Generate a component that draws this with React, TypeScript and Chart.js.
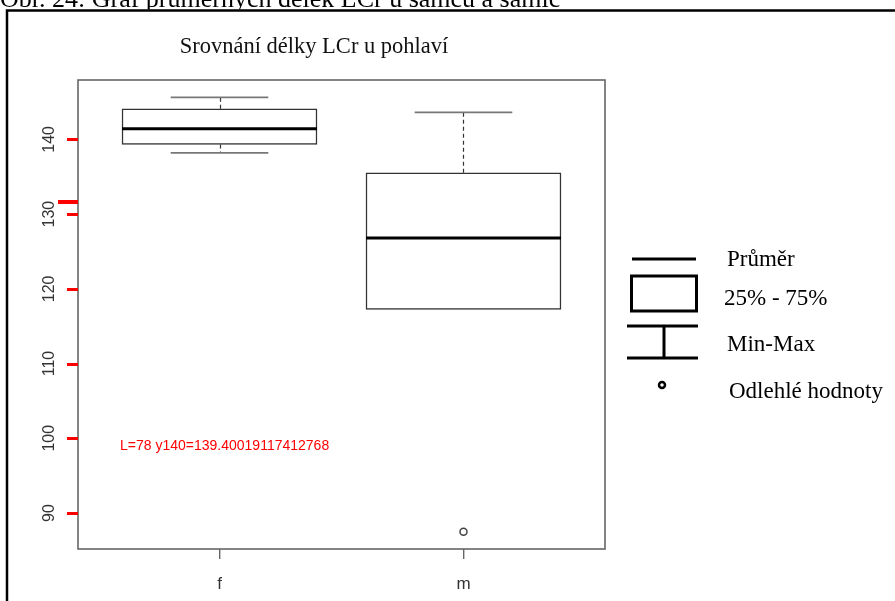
import React, { useEffect, useRef } from "react";
import { Chart, registerables } from "chart.js";

Chart.register(...registerables);

// ---- data ----
const categories = ["f", "m"];
const categoryPositions = [1, 2];
const whiskerLow = [138.2, 117.25];
const q1Values = [139.33, 117.25];
const medianValues = [141.42, 126.81];
const q3Values = [144.1, 135.52];
const whiskerHigh = [145.63, 143.62];
const outlierCategory = [2];
const outlierValues = [87.5];
const yTickValues = [90, 100, 110, 120, 130, 140];
const legendLabels = ["Průměr", "25% - 75%", "Min-Max", "Odlehlé hodnoty"];
const chartTitle = "Srovnání délky LCr u pohlaví";
const caption = "Obr. 24: Graf průměrných délek LCr u samců a samic";

const SERIF = "'Liberation Serif', 'Times New Roman', serif";
const SANS = "'Liberation Sans', Arial, sans-serif";

const boxPlugin = {
  id: "boxExtras",
  beforeDraw(chart: any) {
    const ctx = chart.ctx;
    ctx.save();
    ctx.fillStyle = "#ffffff";
    ctx.fillRect(0, 0, chart.width, chart.height);
    ctx.restore();
  },
  beforeDatasetsDraw(chart: any) {
    const ctx = chart.ctx;
    const xs = chart.scales.x;
    const ys = chart.scales.y;
    ctx.save();
    categoryPositions.forEach((pos, i) => {
      const cx = Math.round(xs.getPixelForValue(pos)) + 0.5;
      const capL = xs.getPixelForValue(pos - 0.2);
      const capR = xs.getPixelForValue(pos + 0.2);
      const ends: [number, number][] = [
        [q3Values[i], whiskerHigh[i]],
        [q1Values[i], whiskerLow[i]],
      ];
      ends.forEach(([edge, tip]) => {
        if (edge === tip) return;
        const ye = ys.getPixelForValue(edge);
        const yt = ys.getPixelForValue(tip);
        ctx.strokeStyle = "#333";
        ctx.lineWidth = 1.2;
        ctx.setLineDash([4, 3]);
        ctx.beginPath();
        ctx.moveTo(cx, ye);
        ctx.lineTo(cx, yt);
        ctx.stroke();
        ctx.setLineDash([]);
        ctx.strokeStyle = "#777";
        ctx.lineWidth = 1.6;
        ctx.beginPath();
        ctx.moveTo(capL, yt);
        ctx.lineTo(capR, yt);
        ctx.stroke();
      });
    });
    ctx.restore();
  },
  afterDatasetsDraw(chart: any) {
    const ctx = chart.ctx;
    const ys = chart.scales.y;
    const meta = chart.getDatasetMeta(0);
    ctx.save();
    ctx.strokeStyle = "#000";
    ctx.lineWidth = 3;
    meta.data.forEach((bar: any, i: number) => {
      const y = ys.getPixelForValue(medianValues[i]);
      ctx.beginPath();
      ctx.moveTo(bar.x - bar.width / 2, y);
      ctx.lineTo(bar.x + bar.width / 2, y);
      ctx.stroke();
    });
    ctx.restore();
  },
  afterDraw(chart: any) {
    const ctx = chart.ctx;
    const a = chart.chartArea;
    const ys = chart.scales.y;
    ctx.save();
    ctx.setLineDash([]);
    // plot frame
    ctx.strokeStyle = "#666";
    ctx.lineWidth = 1.6;
    ctx.strokeRect(a.left, a.top, a.right - a.left, a.bottom - a.top);

    // rotated y tick labels
    ctx.fillStyle = "#333";
    ctx.font = `16px ${SANS}`;
    ctx.textAlign = "center";
    ctx.textBaseline = "alphabetic";
    yTickValues.forEach((v) => {
      const y = ys.getPixelForValue(v);
      ctx.save();
      ctx.translate(54, y);
      ctx.rotate(-Math.PI / 2);
      ctx.fillText(String(v), 0, 0);
      ctx.restore();
    });

    // title
    ctx.fillStyle = "#111";
    ctx.font = `22.5px ${SERIF}`;
    ctx.textAlign = "center";
    ctx.fillText(chartTitle, 314, 53);

    // legend (hand-drawn key as in the reference)
    ctx.strokeStyle = "#000";
    ctx.lineWidth = 3;
    ctx.beginPath();
    ctx.moveTo(632, 259);
    ctx.lineTo(696, 259);
    ctx.stroke();
    ctx.strokeRect(631.5, 276, 65, 35);
    ctx.beginPath();
    ctx.moveTo(627, 326);
    ctx.lineTo(698, 326);
    ctx.moveTo(664, 326);
    ctx.lineTo(664, 358);
    ctx.moveTo(627, 358);
    ctx.lineTo(698, 358);
    ctx.stroke();
    ctx.lineWidth = 2.5;
    ctx.beginPath();
    ctx.arc(662, 385, 3, 0, Math.PI * 2);
    ctx.stroke();

    ctx.fillStyle = "#000";
    ctx.font = `23px ${SERIF}`;
    ctx.textAlign = "left";
    ctx.fillText(legendLabels[0], 727, 266);
    ctx.fillText(legendLabels[1], 724, 305);
    ctx.fillText(legendLabels[2], 727, 351);
    ctx.fillText(legendLabels[3], 729, 398);

    // caption above the frame (cut off at the top)
    ctx.save();
    ctx.beginPath();
    ctx.rect(0, 0, chart.width, 9.5);
    ctx.clip();
    ctx.font = `26px ${SERIF}`;
    ctx.fillText(caption, 0, 7);
    ctx.restore();

    // outer frame
    ctx.strokeStyle = "#000";
    ctx.lineWidth = 2.5;
    ctx.beginPath();
    ctx.moveTo(7, chart.height + 2);
    ctx.lineTo(7, 10.5);
    ctx.lineTo(chart.width + 2, 10.5);
    ctx.stroke();
    ctx.restore();
  },
};

const yTickPlugin = {
  id: "yTickMarks",
  afterDraw(chart: any) {
    const ctx = chart.ctx;
    const a = chart.chartArea;
    const ys = chart.scales.y;
    ctx.save();
    ctx.setLineDash([]);
    ctx.lineWidth = 3;
    ctx.strokeStyle = "red";
    yTickValues.forEach((v) => {
      const y = Math.round(ys.getPixelForValue(v)) + 0.5;
      ctx.beginPath();
      ctx.moveTo(a.left - 11, y);
      ctx.lineTo(a.left, y);
      ctx.stroke();
    });
    ctx.fillStyle = "red";
    ctx.fillRect(58, 200, 20, 4);
    ctx.font = "14px sans-serif";
    ctx.fillText(`L=${a.left} y140=${ys.getPixelForValue(140)}`, 120, 450);
    ctx.restore();
  },
};

export default function App() {
  const ref = useRef<HTMLCanvasElement | null>(null);

  useEffect(() => {
    if (!ref.current) return;
    const boxData = categoryPositions.map((p, i) => ({ x: p, y: [q1Values[i], q3Values[i]] }));
    const outlierData = outlierValues.map((v, i) => ({
      x: categoryPositions[outlierCategory[i] - 1],
      y: v,
    }));
    const chart = new Chart(ref.current, {
      type: "bar",
      data: {
        datasets: [
          {
            type: "bar",
            data: boxData as any,
            backgroundColor: "#ffffff",
            borderColor: "#333",
            borderWidth: 1.5,
            borderSkipped: false,
            barThickness: 195,
          } as any,
          {
            type: "scatter",
            data: outlierData as any,
            pointRadius: 3.5,
            pointBorderWidth: 1.5,
            borderColor: "#444",
            backgroundColor: "#ffffff",
          } as any,
        ],
      },
      plugins: [boxPlugin, yTickPlugin],
      options: {
        animation: false,
        responsive: false,
        layout: { padding: { top: 80, right: 290, left: 68, bottom: 0 } },
        plugins: {
          legend: { display: false },
          title: { display: false },
          tooltip: { enabled: false },
        },
        scales: {
          x: {
            type: "linear",
            min: 0.42,
            max: 2.58,
            offset: false,
            afterBuildTicks: (s: any) => {
              s.ticks = categoryPositions.map((v) => ({ value: v }));
            },
            afterFit: (s: any) => {
              s.height = 52;
            },
            ticks: {
              callback: (v: any) => categories[categoryPositions.indexOf(Number(v))] ?? "",
              font: { family: SANS, size: 17 },
              color: "#333",
              padding: 15,
              maxRotation: 0,
              autoSkip: false,
            },
            grid: {
              offset: false,
              drawOnChartArea: false,
              drawTicks: true,
              tickLength: 10,
              color: "#666",
              lineWidth: 1.4,
            },
            border: { display: false },
          },
          y: {
            type: "linear",
            min: 85.18,
            max: 147.95,
            afterFit: (s: any) => {
              s.width = 10;
            },
            ticks: { display: false },
            grid: { display: false },
            border: { display: false },
          },
        },
      } as any,
    });
    return () => chart.destroy();
  }, []);

  return (
    <div style={{ position: "fixed", left: 0, top: 0, width: 895, height: 601, background: "#fff" }}>
      <canvas ref={ref} width={895} height={601} style={{ display: "block", width: 895, height: 601 }} />
    </div>
  );
}
